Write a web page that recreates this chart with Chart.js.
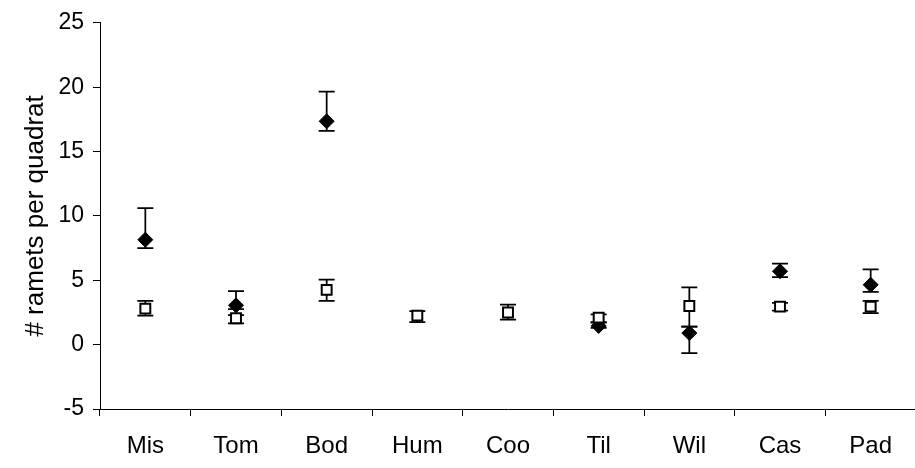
<!DOCTYPE html>
<html>
<head>
<meta charset="utf-8">
<script src="https://cdn.jsdelivr.net/npm/chart.js@4"></script>
<style>
  html, body { margin: 0; padding: 0; background: #fff; overflow: hidden; }
  #wrap { width: 925px; height: 468px; }
</style>
</head>
<body>
<div id="wrap"><canvas id="c" width="925" height="468"></canvas></div>
<script>
// Sites along the x axis
const sites = ['Mis', 'Tom', 'Bod', 'Hum', 'Coo', 'Til', 'Wil', 'Cas', 'Pad'];

// Filled diamonds: mean ramets per quadrat with upper / lower error limits
const filledMean  = [8.15, 3.05, 17.35, null, null, 1.45, 0.9, 5.7, 4.65];
const filledUpper = [10.6, 4.15, 19.65, null, null, 1.75, 1.4, 6.3, 5.85];
const filledLower = [7.5, 2.75, 16.6, null, null, 1.3, -0.65, 5.25, 4.1];

// Open squares: mean ramets per quadrat with upper / lower error limits
const openMean  = [2.8, 2.05, 4.25, 2.25, 2.5, 2.1, 3.0, 2.95, 2.95];
const openUpper = [3.4, 2.3, 5.05, 2.6, 3.1, 2.35, 4.45, 3.25, 3.4];
const openLower = [2.25, 1.65, 3.4, 1.75, 1.95, 1.7, 1.4, 2.65, 2.45];

// Y axis tick values
const yTicks = [-5, 0, 5, 10, 15, 20, 25];

const FONT = '"Liberation Sans", Arial, sans-serif';

// Vertical error bars with caps, drawn underneath the markers
const errorBars = {
  id: 'errorBars',
  beforeDatasetsDraw(chart) {
    const { ctx, scales: { x, y } } = chart;
    ctx.save();
    ctx.strokeStyle = '#000';
    ctx.lineWidth = 1.75;
    chart.data.datasets.forEach(ds => {
      ds.data.forEach((v, i) => {
        if (v == null || ds.errUpper[i] == null) return;
        const px = x.getPixelForValue(i);
        const yt = y.getPixelForValue(ds.errUpper[i]);
        const yb = y.getPixelForValue(ds.errLower[i]);
        ctx.beginPath();
        ctx.moveTo(px, yt); ctx.lineTo(px, yb);
        ctx.moveTo(px - 8, yt); ctx.lineTo(px + 8, yt);
        ctx.moveTo(px - 8, yb); ctx.lineTo(px + 8, yb);
        ctx.stroke();
      });
    });
    ctx.restore();
  }
};

new Chart(document.getElementById('c'), {
  type: 'line',
  data: {
    labels: sites,
    datasets: [
      {
        label: 'filled',
        data: filledMean,
        errUpper: filledUpper,
        errLower: filledLower,
        showLine: false,
        pointStyle: 'rectRot',
        pointRadius: 7.5,
        pointBackgroundColor: '#000',
        pointBorderColor: '#000',
        pointBorderWidth: 1,
        order: 2
      },
      {
        label: 'open',
        data: openMean,
        errUpper: openUpper,
        errLower: openLower,
        showLine: false,
        pointStyle: 'rect',
        pointRadius: 7,
        pointBackgroundColor: '#fff',
        pointBorderColor: '#000',
        pointBorderWidth: 2,
        order: 1
      }
    ]
  },
  options: {
    responsive: false,
    animation: false,
    devicePixelRatio: 1,
    layout: { padding: { top: 19, right: 2, left: 0, bottom: 0 } },
    plugins: {
      legend: { display: false },
      tooltip: { enabled: false }
    },
    scales: {
      x: {
        offset: true,
        grid: {
          offset: true,
          drawOnChartArea: false,
          drawTicks: true,
          tickLength: 7,
          color: '#000',
          lineWidth: 1
        },
        border: { display: true, color: '#000', width: 1 },
        ticks: {
          color: '#000',
          font: { family: FONT, size: 24 },
          padding: 16,
          maxRotation: 0,
          autoSkip: false
        },
        afterFit(scale) { scale.height = 59; }
      },
      y: {
        min: -5,
        max: 25,
        afterBuildTicks(scale) { scale.ticks = yTicks.map(v => ({ value: v })); },
        grid: {
          drawOnChartArea: false,
          drawTicks: true,
          tickLength: 7,
          color: '#000',
          lineWidth: 1
        },
        border: { display: true, color: '#000', width: 1 },
        ticks: {
          color: '#000',
          font: { family: FONT, size: 23 },
          padding: 9
        },
        title: {
          display: true,
          text: '# ramets per quadrat',
          color: '#000',
          font: { family: FONT, size: 26 },
          padding: { top: 20, bottom: 0 }
        },
        afterFit(scale) { scale.width = 100; }
      }
    }
  },
  plugins: [errorBars]
});
</script>
</body>
</html>
